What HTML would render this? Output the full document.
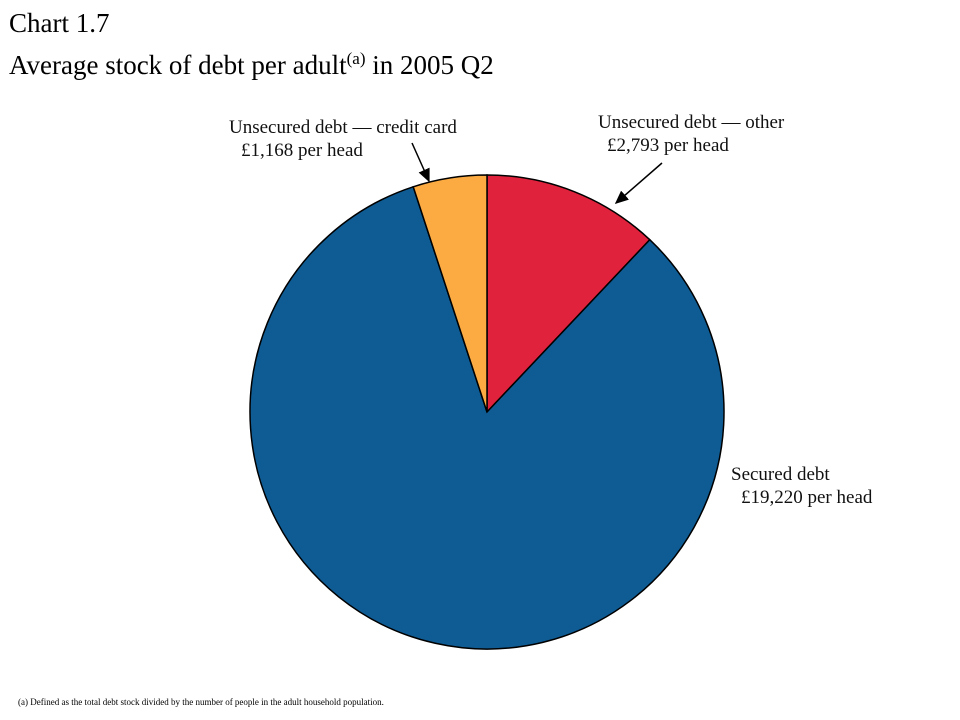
<!DOCTYPE html>
<html><head><meta charset="utf-8"><style>
body{margin:0;background:#fff;}
svg{display:block;}
</style></head><body>
<svg width="960" height="720" xmlns="http://www.w3.org/2000/svg">
<defs><marker id="ah" markerWidth="10" markerHeight="10" refX="8" refY="4" orient="auto"><path d="M0,0 L9,4 L0,8 z" fill="#000"/></marker></defs>
<text x="9" y="32" font-family="Liberation Serif, serif" font-size="27">Chart 1.7</text>
<text x="9" y="74" font-family="Liberation Serif, serif" font-size="27">Average stock of debt per adult<tspan font-size="17" dy="-10">(a)</tspan><tspan dy="10"> in 2005 Q2</tspan></text>
<g id="slices"></g>
<g font-family="Liberation Serif, serif" font-size="19" fill="#111">
<text x="229" y="133">Unsecured debt — credit card</text>
<text x="241" y="156">£1,168 per head</text>
<text x="598" y="128">Unsecured debt — other</text>
<text x="607" y="151">£2,793 per head</text>
<text x="731" y="480">Secured debt</text>
<text x="741" y="503">£19,220 per head</text>
</g>
<line x1="412" y1="143" x2="429" y2="181" stroke="#000" stroke-width="1.5" marker-end="url(#ah)"/>
<line x1="662" y1="163" x2="616" y2="203" stroke="#000" stroke-width="1.5" marker-end="url(#ah)"/>
<text x="18" y="705" font-family="Liberation Serif, serif" font-size="9">(a)  Defined as the total debt stock divided by the number of people in the adult household population.</text>
</svg>
<script>
const categories = ["Unsecured debt — other", "Secured debt", "Unsecured debt — credit card"];
const values = [2793, 19220, 1168];
const colors = ["#e0223c", "#0f5c94", "#fbab42"];
const cx = 487, cy = 412, r = 237;
const g = document.getElementById('slices');
const total = values.reduce((a, b) => a + b, 0);
let acc = 0;
function pt(frac) {
  const a = frac * 2 * Math.PI;
  return [cx + r * Math.sin(a), cy - r * Math.cos(a)];
}
values.forEach((v, i) => {
  const f0 = acc / total, f1 = (acc + v) / total;
  acc += v;
  const [x0, y0] = pt(f0), [x1, y1] = pt(f1);
  const large = (f1 - f0) > 0.5 ? 1 : 0;
  const p = document.createElementNS('http://www.w3.org/2000/svg', 'path');
  p.setAttribute('d', `M${cx},${cy} L${x0},${y0} A${r},${r} 0 ${large} 1 ${x1},${y1} Z`);
  p.setAttribute('fill', colors[i]);
  p.setAttribute('stroke', '#000');
  p.setAttribute('stroke-width', '1.5');
  
  
  g.appendChild(p);
});
</script>
</body></html>
